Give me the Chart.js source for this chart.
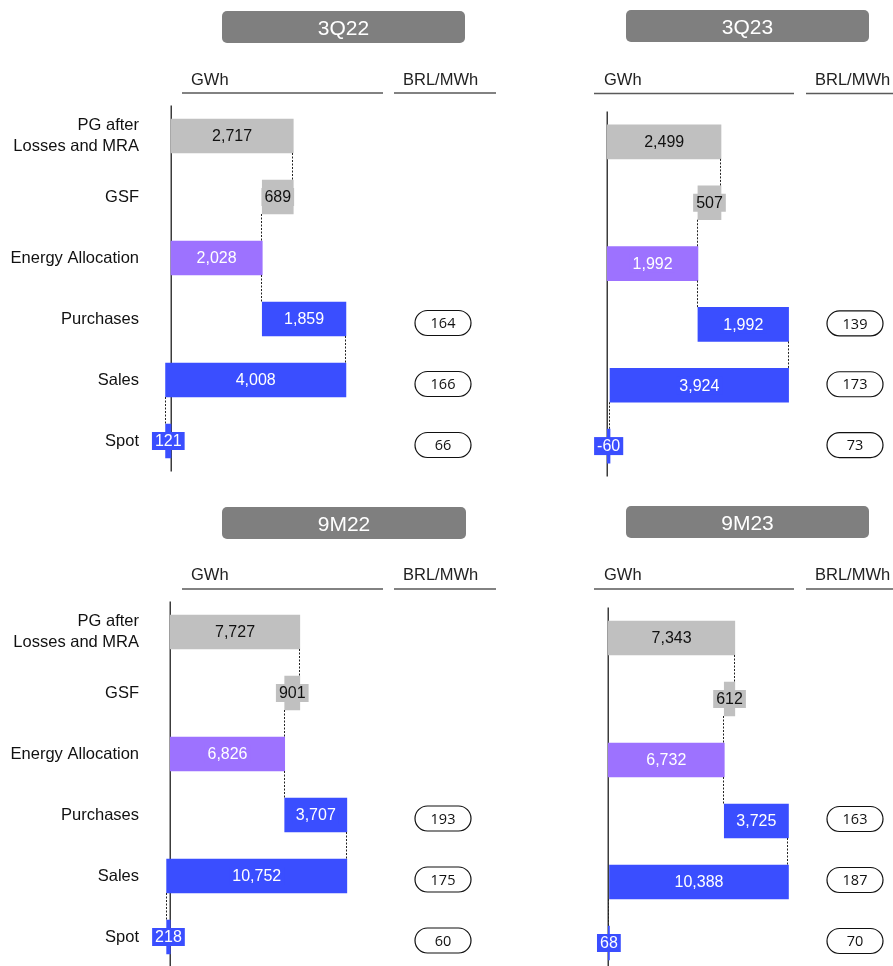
<!DOCTYPE html>
<html>
<head>
<meta charset="utf-8">
<title>Energy balance – GWh and BRL/MWh</title>
<script src="https://cdn.jsdelivr.net/npm/chart.js@4.4.1/dist/chart.umd.min.js"></script>
<style>
  html, body { margin: 0; padding: 0; background: #ffffff; width: 893px; height: 966px; overflow: hidden; }
  canvas { position: absolute; left: 0; top: 0; }
</style>
</head>
<body>
<canvas id="c3Q22" width="893" height="1000"></canvas>
<canvas id="c3Q23" width="893" height="1000"></canvas>
<canvas id="c9M22" width="893" height="1000"></canvas>
<canvas id="c9M23" width="893" height="1000"></canvas>
<script>
// ---- data ----
const categories = [['PG after', 'Losses and MRA'], 'GSF', 'Energy Allocation', 'Purchases', 'Sales', 'Spot'];
const periods = ['3Q22', '3Q23', '9M22', '9M23'];

// GWh: PG after losses, GSF, energy allocation, purchases, sales, spot
const gwh3Q22 = [2717, 689, 2028, 1859, 4008, 121];
const gwh3Q23 = [2499, 507, 1992, 1992, 3924, -60];
const gwh9M22 = [7727, 901, 6826, 3707, 10752, 218];
const gwh9M23 = [7343, 612, 6732, 3725, 10388, 68];

// BRL/MWh prices (only purchases, sales and spot carry one)
const price3Q22 = [null, null, null, 164, 166, 66];
const price3Q23 = [null, null, null, 139, 173, 73];
const price9M22 = [null, null, null, 193, 175, 60];
const price9M23 = [null, null, null, 163, 187, 70];

// ---- styling ----
const FONT = "'Liberation Sans', Arial, Helvetica, sans-serif";
const PILL_FONT = "'Open Sans', 'Liberation Sans', sans-serif";
const GREY = '#c0c0c0', PURPLE = '#9d72ff', BLUE = '#3a4eff';
const BAR_COLORS = [GREY, GREY, PURPLE, BLUE, BLUE, BLUE];
const LABEL_COLORS = ['#111111', '#111111', '#ffffff', '#ffffff', '#ffffff', '#ffffff'];
const W = 893, H = 1000;

// page placement of each panel
const layouts = {
  '3Q22': { area: [150, 105.5, 383, 471.5], xRange: [-467, 4711], showCats: true,
            head: [222, 11, 465, 43], gwhX: 191, brlX: 403, gwhLine: [182, 383], brlLine: [394, 496],
            textY: 84.5, lineY: 93, pillX: 443, pillShift: 4 },
  '3Q23': { area: [586, 111.5, 794, 476.5], xRange: [-468, 4103], showCats: false,
            head: [626, 10, 869, 42], gwhX: 604, brlX: 815, gwhLine: [594, 794], brlLine: [806, 893],
            textY: 84.5, lineY: 93.5, pillX: 855, pillShift: -1 },
  '9M22': { area: [150, 601.5, 383, 967.5], xRange: [-1211, 12691], showCats: true,
            head: [222, 507, 466, 539], gwhX: 191, brlX: 403, gwhLine: [182, 383], brlLine: [394, 496],
            textY: 580, lineY: 589, pillX: 443, pillShift: 3.5 },
  '9M23': { area: [586, 607.5, 794, 973.5], xRange: [-1294, 10778], showCats: false,
            head: [626, 506, 869, 538], gwhX: 604, brlX: 815, gwhLine: [594, 794], brlLine: [806, 893],
            textY: 580, lineY: 589, pillX: 855, pillShift: -2 }
};

// floating bars of the waterfall built from the stated values
function waterfall(v) {
  const [pg, gsf, ea, pur, sales, spot] = v;
  const top = ea + pur;
  const salesStart = top - sales;
  const dir = salesStart < 0 ? -1 : 1;
  return [[0, pg], [pg - gsf, pg], [0, ea], [ea, top], [salesStart, top], [0, dir * Math.abs(spot)]];
}

const fmt = n => n.toLocaleString('en-US');

function decor(period, values, prices, bars, L) {
  return {
    id: 'decor' + period,
    beforeDatasetsDraw(chart) {
      const { ctx, chartArea: a, scales: { x } } = chart;
      const x0 = Math.round(x.getPixelForValue(0)) + 0.25;
      ctx.save();
      ctx.strokeStyle = '#3c3c3c';
      ctx.lineWidth = 1.5;
      ctx.beginPath();
      ctx.moveTo(x0, a.top);
      ctx.lineTo(x0, a.bottom);
      ctx.stroke();
      ctx.restore();
    },
    afterDatasetsDraw(chart) {
      const { ctx, scales: { x } } = chart;
      const meta = chart.getDatasetMeta(0);
      ctx.save();
      // dotted connectors between consecutive steps
      ctx.strokeStyle = '#222222';
      ctx.lineWidth = 1;
      ctx.setLineDash([2, 1.5]);
      for (let i = 0; i < bars.length - 1; i++) {
        const a = bars[i], b = bars[i + 1];
        let best = a[0], dist = Infinity;
        for (const va of a) for (const vb of b) {
          if (Math.abs(va - vb) < dist) { dist = Math.abs(va - vb); best = va; }
        }
        const px = Math.round(x.getPixelForValue(best)) - 0.5;
        const half = meta.data[i].height / 2;
        ctx.beginPath();
        ctx.moveTo(px, meta.data[i].y + half);
        ctx.lineTo(px, meta.data[i + 1].y - meta.data[i + 1].height / 2);
        ctx.stroke();
      }
      ctx.setLineDash([]);
      // value labels on a patch of the bar's own colour
      ctx.font = '16px ' + FONT;
      ctx.textAlign = 'center';
      ctx.textBaseline = 'middle';
      bars.forEach((b, i) => {
        const el = meta.data[i];
        const cx = (x.getPixelForValue(b[0]) + x.getPixelForValue(b[1])) / 2;
        const txt = fmt(values[i]);
        const tw = ctx.measureText(txt).width;
        ctx.fillStyle = BAR_COLORS[i];
        ctx.fillRect(cx - tw / 2 - 3, el.y - 9, tw + 6, 18);
        ctx.fillStyle = LABEL_COLORS[i];
        ctx.fillText(txt, cx, el.y + 1);
      });
      ctx.restore();
    },
    afterDraw(chart) {
      const { ctx, scales: { y } } = chart;
      ctx.save();
      // period header
      const [hx1, hy1, hx2, hy2] = L.head;
      ctx.fillStyle = '#7f7f7f';
      ctx.beginPath();
      ctx.roundRect(hx1, hy1, hx2 - hx1, hy2 - hy1, 5);
      ctx.fill();
      ctx.fillStyle = '#ffffff';
      ctx.font = '21px ' + FONT;
      ctx.textAlign = 'center';
      ctx.textBaseline = 'alphabetic';
      ctx.fillText(period, (hx1 + hx2) / 2, (hy1 + hy2) / 2 + 7.5);
      // unit headings
      ctx.fillStyle = '#222222';
      ctx.font = '16.5px ' + FONT;
      ctx.textAlign = 'left';
      ctx.fillText('GWh', L.gwhX, L.textY);
      ctx.fillText('BRL/MWh', L.brlX, L.textY);
      ctx.strokeStyle = '#5a5a5a';
      ctx.lineWidth = 1.6;
      ctx.beginPath();
      ctx.moveTo(L.gwhLine[0], L.lineY); ctx.lineTo(L.gwhLine[1], L.lineY);
      ctx.moveTo(L.brlLine[0], L.lineY); ctx.lineTo(L.brlLine[1], L.lineY);
      ctx.stroke();
      // price pills
      ctx.font = '14.5px ' + PILL_FONT;
      ctx.textAlign = 'center';
      ctx.textBaseline = 'middle';
      ctx.lineWidth = 1.2;
      ctx.strokeStyle = '#111111';
      prices.forEach((p, i) => {
        if (p === null) return;
        const cy = y.getPixelForValue(i) + L.pillShift;
        const pw = 56, ph = 25;
        ctx.beginPath();
        ctx.roundRect(L.pillX - pw / 2, cy - ph / 2, pw, ph, ph / 2);
        ctx.fillStyle = '#ffffff';
        ctx.fill();
        ctx.stroke();
        ctx.fillStyle = '#111111';
        ctx.fillText(String(p), L.pillX, cy + 1);
      });
      ctx.restore();
    }
  };
}

function buildPanel(period, values, prices) {
  const L = layouts[period];
  const bars = waterfall(values);
  const yAxis = {
    display: L.showCats,
    grid: { display: false, drawTicks: false },
    border: { display: false },
    ticks: { color: '#111111', padding: 11, font: { family: FONT, size: 16.5, lineHeight: 1.22 } }
  };
  if (L.showCats) yAxis.afterFit = axis => { axis.width = L.area[0]; };
  new Chart(document.getElementById('c' + period), {
    type: 'bar',
    data: {
      labels: categories,
      datasets: [{
        data: bars,
        backgroundColor: BAR_COLORS,
        borderWidth: 0,
        barThickness: 34
      }]
    },
    options: {
      indexAxis: 'y',
      responsive: false,
      animation: false,
      events: [],
      layout: {
        padding: {
          left: L.showCats ? 0 : L.area[0],
          top: L.area[1],
          right: W - L.area[2],
          bottom: H - L.area[3]
        }
      },
      scales: {
        x: { type: 'linear', display: false, min: L.xRange[0], max: L.xRange[1] },
        y: yAxis
      },
      plugins: { legend: { display: false }, tooltip: { enabled: false } }
    },
    plugins: [decor(period, values, prices, bars, L)]
  });
}

buildPanel('3Q22', gwh3Q22, price3Q22);
buildPanel('3Q23', gwh3Q23, price3Q23);
buildPanel('9M22', gwh9M22, price9M22);
buildPanel('9M23', gwh9M23, price9M23);
</script>
</body>
</html>
